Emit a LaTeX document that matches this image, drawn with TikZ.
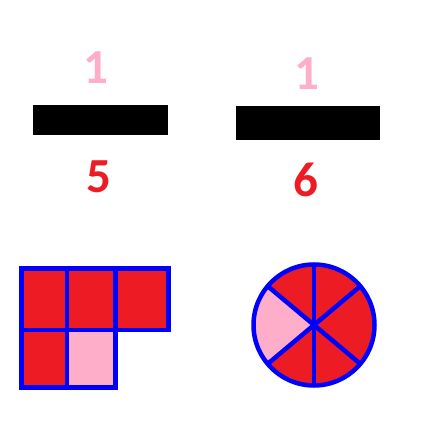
\documentclass[tikz,border=0pt]{standalone}
\usepackage{fontspec}
\setmainfont{Carlito}
\definecolor{paintred}{RGB}{237,28,36}
\definecolor{paintpink}{RGB}{255,174,201}
\definecolor{paintblue}{RGB}{0,0,255}

\begin{document}
\begin{tikzpicture}[x=1pt,y=1pt,
    digit/.style={inner sep=0pt,font=\fontsize{49}{49}\selectfont\bfseries},
    edge/.style={draw=paintblue,line width=4.5pt,line cap=rect}]
        \useasboundingbox (0,0) rectangle (426,426);

        % the two fractions
        \fill (33,291) rectangle (168,321);
        \fill (236,286) rectangle (380,320);
        \node[digit,text=paintpink] (numA) at (96,358.5) {1};
        \node[digit,text=paintred] (denA) at (98.5,249) {5};
        \node[digit,text=paintpink] (numB) at (307,352) {1};
        \node[digit,text=paintred] (denB) at (305.5,246) {6};

        % five squares, one of them light
        \def\xa{21.3} \def\xb{67.2} \def\xc{115.5} \def\xd{168.3}
        \def\ya{157.7} \def\yb{96} \def\yc{38.5}
        \foreach \l/\r/\t/\b/\c in {\xa/\xb/\ya/\yb/paintred,\xb/\xc/\ya/\yb/paintred,
            \xc/\xd/\ya/\yb/paintred,\xa/\xb/\yb/\yc/paintred,\xb/\xc/\yb/\yc/paintpink}
            \draw[edge,fill=\c] (\l,\b) rectangle (\r,\t);

        % circle cut into six pieces
        \coordinate (mid) at (314,101);
        \def\rad{60.5}
        \fill[paintred] (mid) circle[radius=\rad];
        \fill[paintpink] (mid) -- ++(140:\rad) arc[start angle=140,end angle=220,radius=\rad] -- cycle;
        \foreach \a in {90,140,220,270,320,40}
            \draw[edge,line cap=butt] (mid) -- ++(\a:\rad);
        \draw[edge] (mid) circle[radius=\rad];
    \end{tikzpicture}
\end{document}
